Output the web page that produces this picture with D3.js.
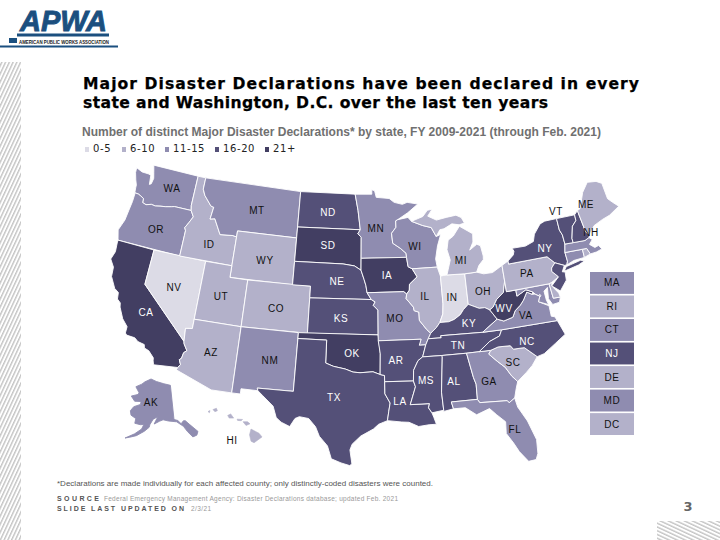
<!DOCTYPE html>
<html>
<head>
<meta charset="utf-8">
<script src="https://cdnjs.cloudflare.com/ajax/libs/d3/7.8.5/d3.min.js"></script>
<style>
  html, body { margin: 0; padding: 0; background: #fff; }
  svg { display: block; font-family: "DejaVu Sans", sans-serif; }
</style>
</head>
<body>
<svg id="chart" width="720" height="540"></svg>
<script>
var binLabels = ['0-5', '6-10', '11-15', '16-20', '21+'];
var binColors = ['#dcdbe6', '#b3b1ca', '#8f8cb0', '#545078', '#423e62'];

var states = ['WA','OR','CA','NV','ID','MT','WY','UT','CO','AZ','NM','ND','SD','NE','KS','OK','TX','MN','IA','MO','AR','LA','WI','IL','IN','OH','MI','KY','TN','MS','AL','GA','FL','SC','NC','VA','WV','MD','DE','PA','NY','NJ','CT','RI','MA','VT','NH','ME','DC','AK','HI'];
var stateBins = [2,2,4,0,1,2,1,1,1,1,2,3,4,3,3,4,3,2,4,2,3,3,2,1,0,1,1,3,3,3,3,2,2,1,3,2,4,2,1,1,3,3,2,1,2,3,3,1,1,2,1];

// the small states listed beside the map
var sideStates = ['MA','RI','CT','NJ','DE','MD','DC'];

// outlines are [lon, lat]
var outlines = {
  WA: [[[-124.7,48.38],[-123.9,48.16],[-123.1,48.15],[-122.75,48.1],[-122.6,47.3],[-122.4,47.4],[-122.3,47.9],[-122.5,48.4],[-122.75,49],[-117.03,49],[-117.04,46.42],[-116.92,45.995],[-118.98,46],[-119.3,45.93],[-119.99,45.81],[-120.65,45.74],[-121.2,45.65],[-121.7,45.7],[-122.3,45.55],[-122.76,45.65],[-122.8,46],[-123.2,46.15],[-123.55,46.25],[-124,46.27],[-124.07,46.7],[-124.1,46.95],[-124.35,47.35],[-124.65,47.95]]],
  OR: [[[-124,46.27],[-123.55,46.25],[-123.2,46.15],[-122.8,46],[-122.76,45.65],[-122.3,45.55],[-121.7,45.7],[-121.2,45.65],[-120.65,45.74],[-119.99,45.81],[-119.3,45.93],[-118.98,46],[-116.92,45.995],[-116.5,45.5],[-116.85,44.95],[-117.2,44.45],[-117.03,44.2],[-117.03,43.8],[-117.03,42],[-124.21,42],[-124.55,42.84],[-124.15,43.8],[-124.05,44.7],[-123.95,45.5],[-123.95,46.2]]],
  CA: [[[-124.21,42],[-120,42],[-120,39],[-114.63,35],[-114.57,34.8],[-114.15,34.27],[-114.43,34.05],[-114.53,33.55],[-114.72,33.4],[-114.5,33],[-114.72,32.72],[-117.12,32.53],[-117.25,32.85],[-117.3,33.1],[-117.9,33.6],[-118.4,33.75],[-118.5,34.03],[-119.2,34.15],[-119.6,34.4],[-120.47,34.45],[-120.65,34.6],[-120.65,35.15],[-121.3,35.7],[-121.9,36.6],[-122,36.95],[-122.4,37.2],[-122.5,37.75],[-123,38],[-123.7,38.9],[-123.8,39.7],[-124.35,40.3],[-124.1,41],[-124.2,41.75]]],
  NV: [[[-120,42],[-114.04,42],[-114.04,36.2],[-114.74,36.1],[-114.63,35],[-120,39]]],
  ID: [[[-117.03,49],[-116.05,49],[-116.05,48],[-115.7,47.5],[-114.7,46.7],[-114.35,46.65],[-114.5,45.6],[-113.95,45.7],[-113.45,45.05],[-113,44.45],[-111.5,44.55],[-111.05,44.48],[-111.05,42],[-117.03,42],[-117.03,43.8],[-117.03,44.2],[-117.2,44.45],[-116.85,44.95],[-116.5,45.5],[-116.92,45.995],[-117.04,46.42]]],
  MT: [[[-116.05,49],[-104.05,49],[-104.05,45],[-111.05,45],[-111.05,44.48],[-111.5,44.55],[-113,44.45],[-113.45,45.05],[-113.95,45.7],[-114.5,45.6],[-114.35,46.65],[-114.7,46.7],[-115.7,47.5],[-116.05,48]]],
  WY: [[[-111.05,45],[-104.05,45],[-104.05,41],[-111.05,41]]],
  UT: [[[-114.04,42],[-111.05,42],[-111.05,41],[-109.05,41],[-109.05,37],[-114.04,37]]],
  CO: [[[-109.05,41],[-102.05,41],[-102.05,37],[-109.05,37]]],
  AZ: [[[-114.04,37],[-109.05,37],[-109.05,31.33],[-111.07,31.33],[-114.81,32.5],[-114.72,32.72],[-114.5,33],[-114.72,33.4],[-114.53,33.55],[-114.43,34.05],[-114.15,34.27],[-114.57,34.8],[-114.63,35],[-114.74,36.1],[-114.04,36.2]]],
  NM: [[[-109.05,37],[-103,37],[-103.06,32],[-106.62,32],[-106.53,31.78],[-108.2,31.78],[-108.2,31.33],[-109.05,31.33]]],
  ND: [[[-104.05,49],[-97.23,49],[-96.85,47.6],[-96.56,45.94],[-104.05,45.94]]],
  SD: [[[-104.05,45.94],[-96.56,45.94],[-96.85,45.6],[-96.45,45.3],[-96.45,42.49],[-97.2,42.85],[-98.5,43],[-104.05,43]]],
  NE: [[[-104.05,43],[-98.5,43],[-97.2,42.85],[-96.45,42.49],[-96.1,41.7],[-95.9,41.2],[-95.77,40.58],[-95.31,40],[-102.05,40],[-102.05,41],[-104.05,41]]],
  KS: [[[-102.05,40],[-95.31,40],[-94.9,39.8],[-95.1,39.5],[-94.6,39.1],[-94.62,37],[-102.05,37]]],
  OK: [[[-103,37],[-94.62,37],[-94.43,35.4],[-94.48,33.64],[-95.2,33.88],[-96.5,33.8],[-97.2,33.85],[-98,34.1],[-99.2,34.3],[-100,34.56],[-100,36.5],[-103,36.5]]],
  TX: [[[-106.62,32],[-103.06,32],[-103,36.5],[-100,36.5],[-100,34.56],[-99.2,34.3],[-98,34.1],[-97.2,33.85],[-96.5,33.8],[-95.2,33.88],[-94.48,33.64],[-94.04,33.55],[-94.04,31.99],[-93.55,31.2],[-93.7,30.5],[-93.85,29.7],[-94.7,29.4],[-95.2,29],[-96.4,28.4],[-97.2,27.7],[-97.4,27.2],[-97.2,26],[-97.4,25.85],[-98.2,26.07],[-99.1,26.4],[-99.5,27.5],[-100.3,28.3],[-100.7,29.1],[-101.4,29.77],[-102.3,29.88],[-102.7,29.7],[-103.15,28.98],[-104,29.3],[-104.5,29.65],[-104.9,30.6],[-106,31.4],[-106.53,31.78]]],
  MN: [[[-97.23,49],[-95.15,49],[-95.15,49.38],[-94.8,49.3],[-94.6,48.72],[-93,48.6],[-92.4,48.25],[-91.4,48.05],[-90.8,48.2],[-89.5,48],[-90.8,47.3],[-92.05,46.75],[-92.3,46.65],[-92.3,46.1],[-92.85,45.6],[-92.75,44.75],[-91.9,44.3],[-91.25,43.85],[-91.22,43.5],[-96.45,43.5],[-96.45,45.3],[-96.85,45.6],[-96.56,45.94],[-96.85,47.6]]],
  IA: [[[-96.45,43.5],[-91.22,43.5],[-91.1,42.7],[-90.65,42.5],[-90.15,41.8],[-91.05,41.2],[-91.1,40.7],[-91.42,40.38],[-91.72,40.6],[-95.77,40.58],[-95.9,41.2],[-96.1,41.7],[-96.45,42.49]]],
  MO: [[[-95.77,40.58],[-91.72,40.6],[-91.42,40.38],[-91.5,40],[-90.75,39.25],[-90.7,38.95],[-90.2,38.8],[-90.2,38.1],[-89.5,37.3],[-89.1,36.95],[-89.4,36.5],[-89.7,36],[-90.37,36],[-90.15,36.5],[-94.62,36.5],[-94.62,37],[-94.6,39.1],[-95.1,39.5],[-94.9,39.8],[-95.31,40]]],
  AR: [[[-94.62,36.5],[-90.15,36.5],[-90.37,36],[-89.7,36],[-90.1,35],[-90.6,34.7],[-91.1,33.9],[-91.17,33],[-94.04,33.02],[-94.04,33.55],[-94.48,33.64],[-94.43,35.4]]],
  LA: [[[-94.04,33.02],[-91.17,33],[-91,32.5],[-91.6,31],[-89.73,31],[-89.85,30.65],[-89.55,30.2],[-89.4,29.8],[-89.2,29.2],[-89.9,29.2],[-90.9,29.1],[-91.8,29.5],[-92.5,29.55],[-93.85,29.7],[-93.7,30.5],[-93.55,31.2],[-94.04,31.99]]],
  WI: [[[-92.05,46.75],[-90.8,46.9],[-90.4,46.55],[-89.1,46.13],[-88.1,45.9],[-87.6,45.1],[-87.05,45.25],[-87.55,44.3],[-87.9,43.2],[-87.8,42.5],[-90.65,42.5],[-91.1,42.7],[-91.22,43.5],[-91.25,43.85],[-91.9,44.3],[-92.75,44.75],[-92.85,45.6],[-92.3,46.1],[-92.3,46.65]]],
  IL: [[[-90.65,42.5],[-87.8,42.5],[-87.53,41.7],[-87.53,39.35],[-87.65,38.5],[-88.05,37.8],[-88.45,37.4],[-89.1,36.95],[-89.5,37.3],[-90.2,38.1],[-90.2,38.8],[-90.7,38.95],[-90.75,39.25],[-91.5,40],[-91.42,40.38],[-91.1,40.7],[-91.05,41.2],[-90.15,41.8]]],
  IN: [[[-87.53,41.7],[-87.2,41.75],[-86.8,41.76],[-84.8,41.7],[-84.82,39.1],[-85.4,38.7],[-85.8,38.3],[-86.5,37.95],[-87.1,37.8],[-88.05,37.8],[-87.65,38.5],[-87.53,39.35]]],
  OH: [[[-84.8,41.7],[-83.45,41.72],[-82.7,41.5],[-81.7,41.5],[-80.52,41.98],[-80.52,40.64],[-80.85,39.7],[-81.7,39.2],[-82.2,38.6],[-82.6,38.4],[-83.1,38.65],[-83.7,38.65],[-84.82,39.1]]],
  MI: [[[-86.8,41.76],[-84.8,41.7],[-83.45,41.72],[-83.1,42.25],[-82.5,42.7],[-82.45,43],[-82.6,43.9],[-83,44.07],[-83.9,43.65],[-83.4,44.3],[-83.3,45],[-84.75,45.78],[-85.6,45],[-86.25,44.7],[-86.5,43.9],[-86.25,43],[-86.6,42.2]],
       [[-90.4,46.55],[-89,46.9],[-88.4,47.4],[-87.8,47.47],[-88.4,46.9],[-87.4,46.5],[-86.2,46.65],[-85,46.75],[-84.4,46.5],[-84.1,46],[-84.75,45.9],[-85.6,46.05],[-86.6,45.7],[-87.1,45.65],[-87.6,45.1],[-88.1,45.9],[-89.1,46.13]]],
  KY: [[[-89.4,36.5],[-89.1,36.95],[-88.45,37.4],[-88.05,37.8],[-87.1,37.8],[-86.5,37.95],[-85.8,38.3],[-85.4,38.7],[-84.82,39.1],[-83.7,38.65],[-83.1,38.65],[-82.6,38.4],[-81.97,37.54],[-83.68,36.6],[-88.07,36.68],[-88.05,36.5]]],
  TN: [[[-90.1,35],[-89.7,36],[-89.4,36.5],[-88.05,36.5],[-88.07,36.68],[-83.68,36.6],[-81.68,36.59],[-82,36.1],[-83.1,35.75],[-84.3,35],[-85.6,35],[-88.2,35]]],
  MS: [[[-91.17,33],[-91.1,33.9],[-90.6,34.7],[-90.1,35],[-88.2,35],[-88.1,34.9],[-88.47,31.9],[-88.4,30.35],[-89.55,30.2],[-89.85,30.65],[-89.73,31],[-91.6,31],[-91,32.5]]],
  AL: [[[-88.2,35],[-85.6,35],[-85.18,32.87],[-85,32.3],[-85.05,31],[-87.6,31],[-87.45,30.4],[-88.4,30.25],[-88.47,31.9],[-88.1,34.9]]],
  GA: [[[-85.6,35],[-83.1,35],[-83.35,34.7],[-82.6,34],[-81.9,33.4],[-81.4,32.6],[-80.9,32.05],[-81.15,31.5],[-81.45,30.7],[-82.05,30.37],[-82.2,30.57],[-84.86,30.7],[-85.05,31],[-85,32.3],[-85.18,32.87]]],
  FL: [[[-87.6,31],[-85.05,31],[-84.86,30.7],[-82.2,30.57],[-82.05,30.37],[-81.45,30.7],[-81.3,29.9],[-80.6,28.6],[-80.05,26.9],[-80.15,25.7],[-80.4,25.2],[-81.1,25.15],[-81.8,26.1],[-82.2,26.9],[-82.75,27.8],[-82.65,28.8],[-83.4,29.5],[-84,30.1],[-85.3,29.7],[-86.3,30.4],[-87.45,30.4]]],
  SC: [[[-83.1,35],[-82.3,35.2],[-81.05,35.15],[-80.8,34.82],[-79.67,34.8],[-78.55,33.86],[-79.2,33.2],[-79.9,32.7],[-80.9,32.05],[-81.4,32.6],[-81.9,33.4],[-82.6,34],[-83.35,34.7]]],
  NC: [[[-84.3,35],[-83.1,35.75],[-82,36.1],[-81.68,36.59],[-75.87,36.55],[-75.5,35.3],[-76.5,34.7],[-77.8,34],[-78.55,33.86],[-79.67,34.8],[-80.8,34.82],[-81.05,35.15],[-82.3,35.2],[-83.1,35]]],
  VA: [[[-83.68,36.6],[-81.97,37.54],[-81.3,37.3],[-80.3,37.5],[-79.95,38],[-79.3,38.4],[-78.87,38.77],[-78.35,39.4],[-77.83,39.13],[-77.5,39.1],[-77.05,38.85],[-77.3,38.4],[-76.3,37.9],[-76.3,37],[-76,36.9],[-75.87,36.55],[-81.68,36.59]]],
  WV: [[[-82.6,38.4],[-82.2,38.6],[-81.7,39.2],[-80.85,39.7],[-80.52,40.64],[-80.52,39.72],[-79.48,39.72],[-79.48,39.2],[-78.4,39.6],[-77.72,39.32],[-77.83,39.13],[-78.35,39.4],[-78.87,38.77],[-79.3,38.4],[-79.95,38],[-80.3,37.5],[-81.3,37.3],[-81.97,37.54]]],
  MD: [[[-79.48,39.72],[-75.79,39.72],[-75.7,38.46],[-75.05,38.45],[-75.25,38.03],[-75.9,37.95],[-76.2,38.5],[-76.05,39.45],[-76.5,39.2],[-76.45,38.4],[-76.3,38],[-77.3,38.4],[-77.05,38.85],[-77.5,39.1],[-77.72,39.32],[-78.4,39.6],[-79.48,39.2]]],
  DE: [[[-75.79,39.72],[-75.45,39.8],[-75.55,39.5],[-75.1,38.8],[-75.05,38.45],[-75.7,38.46]]],
  PA: [[[-80.52,41.98],[-79.76,42.27],[-79.76,42],[-75.35,42],[-74.7,41.36],[-75.13,40.98],[-75.2,40.7],[-74.72,40.15],[-75.45,39.8],[-75.79,39.72],[-80.52,39.72]]],
  NY: [[[-79.76,42.27],[-79.05,42.7],[-78.9,43],[-79.05,43.27],[-77.5,43.25],[-76.5,43.5],[-76.2,44.1],[-75.3,44.85],[-74.7,45],[-73.35,45],[-73.4,44],[-73.25,43.55],[-73.27,42.75],[-73.5,42.05],[-73.5,41.3],[-73.65,41],[-73.9,41],[-74.7,41.36],[-75.35,42],[-79.76,42]],
       [[-74,40.6],[-73.75,40.87],[-72.3,41.15],[-71.9,41.05],[-72.6,40.8],[-73.9,40.55]]],
  NJ: [[[-73.9,41],[-74.25,40.5],[-74,40.45],[-74.1,39.75],[-74.9,38.95],[-75.55,39.5],[-74.72,40.15],[-75.2,40.7],[-75.13,40.98],[-74.7,41.36]]],
  CT: [[[-73.5,42.05],[-71.8,42.02],[-71.85,41.32],[-72.9,41.25],[-73.65,41],[-73.5,41.3]]],
  RI: [[[-71.8,42.02],[-71.38,42.02],[-71.2,41.5],[-71.85,41.32]]],
  MA: [[[-73.5,42.05],[-73.27,42.75],[-71.3,42.7],[-70.85,42.87],[-70.6,42.65],[-71,42.3],[-70.6,41.95],[-70.2,42.05],[-70,41.7],[-70.6,41.55],[-71.2,41.5],[-71.38,42.02]]],
  VT: [[[-73.35,45],[-71.5,45],[-71.55,44.5],[-72.05,44.1],[-72.45,43.1],[-72.46,42.73],[-73.27,42.75],[-73.25,43.55],[-73.4,44]]],
  NH: [[[-71.5,45],[-71.1,45.3],[-70.98,43.4],[-70.7,43.07],[-70.85,42.87],[-71.3,42.7],[-72.46,42.73],[-72.45,43.1],[-72.05,44.1],[-71.55,44.5]]],
  ME: [[[-71.1,45.3],[-70.8,45.4],[-70.3,46.2],[-70,46.7],[-69.2,47.45],[-68.3,47.35],[-67.8,47.07],[-67.8,45.7],[-67.45,45.3],[-67,44.85],[-68.2,44.3],[-69,44.1],[-70,43.75],[-70.7,43.07],[-70.98,43.4]]],
  DC: [[[-77.12,38.93],[-77.04,39],[-76.91,38.89],[-77.04,38.79]]],
  AK: [[[-141,69.65],[-141,60.3],[-139,59.9],[-137.5,58.9],[-136,59.6],[-135,59.5],[-133.4,58.4],[-130,55.9],[-131,55],[-133,54.8],[-135,56.5],[-136.5,58.1],[-139.7,59.6],[-144,60],[-147,60.4],[-149,60],[-151.8,59.2],[-150,61.2],[-152.5,60.5],[-154,59],[-154.3,58.2],[-156.5,57],[-160,55.5],[-163,54.7],[-165,54.2],[-161,55.9],[-158,57.5],[-157.2,58.8],[-159,58.6],[-162,58.7],[-162,60],[-165,60.6],[-166,61.7],[-164.7,63],[-161,64],[-161,64.8],[-165,64.5],[-168,65.6],[-164,66.5],[-163.5,67],[-166.8,68.4],[-163,69.5],[-161,70.3],[-156.5,71.35],[-152,70.8],[-146,70.2]]],
  HI: [[[-155.9,20.25],[-155.1,19.85],[-154.8,19.5],[-155.6,18.95],[-155.9,19.1],[-156.05,19.7]],
       [[-156.7,20.95],[-156.25,20.95],[-156,20.75],[-156.4,20.6]],
       [[-157.3,21.2],[-156.75,21.17],[-156.9,21.05],[-157.25,21.08]],
       [[-158.25,21.55],[-157.95,21.7],[-157.65,21.3],[-158.1,21.3]],
       [[-159.75,22.1],[-159.4,22.23],[-159.3,22],[-159.55,21.9]],
       [[-160.25,21.9],[-160.05,22],[-160.1,21.8]]]
};

var svg = d3.select('#chart');
var labelFont = '"Liberation Sans", sans-serif';

// map projections, lower 48 anchored on the KS/OK line
var lower48 = d3.geoAlbers().scale(670);
var anchor = lower48([-96, 37]);
var tr = lower48.translate();
lower48.translate([tr[0] + 365 - anchor[0], tr[1] + 335 - anchor[1]]);
// the reference map is a little wider than a true Albers, New England most of all
var widenX = d3.scaleLinear().domain([365, 546.6, 590]).range([365, 552, 605]);

function toFeature(code) {
  return { type: 'MultiPoint', coordinates: d3.merge(outlines[code]) };
}
var alaska = d3.geoConicEqualArea().rotate([148, 0]).center([-2, 58.5]).parallels([55, 65])
  .fitExtent([[124, 379], [199, 438]], toFeature('AK'));
var hawaii = d3.geoConicEqualArea().rotate([157, 0]).center([-3, 19.9]).parallels([8, 18])
  .fitExtent([[208, 405], [262, 446]], toFeature('HI'));

function projectPoint(code, p) {
  if (code === 'AK') return alaska(p);
  if (code === 'HI') return hawaii(p);
  var q = lower48(p);
  return [widenX(q[0]), q[1]];
}

var ringLine = d3.line();
function statePath(code) {
  return outlines[code].map(function(ring) {
    return ringLine(ring.map(function(p) { return projectPoint(code, p); })) + 'Z';
  }).join('');
}

// hatching down the left side and in the corner
var defs = svg.append('defs');
function addHatch(id, angle) {
  var hatch = defs.append('pattern').attr('id', id).attr('patternUnits', 'userSpaceOnUse')
    .attr('width', 3.4).attr('height', 4).attr('patternTransform', 'rotate(' + angle + ')');
  hatch.append('rect').attr('width', 3.4).attr('height', 4).attr('fill', '#fff');
  hatch.append('rect').attr('width', 1.4).attr('height', 4).attr('fill', '#c4c4c4');
}
addHatch('hatchLeft', 25);
addHatch('hatchCorner', -65);

svg.append('rect').attr('x', 0).attr('y', 62).attr('width', 21).attr('height', 478).attr('fill', 'url(#hatchLeft)');
svg.append('rect').attr('x', 657).attr('y', 521).attr('width', 63).attr('height', 19).attr('fill', 'url(#hatchCorner)');

// logo
var logoBlue = '#1b4f7f';
var logo = svg.append('g').attr('font-family', labelFont);
logo.append('text').attr('x', 20).attr('y', 31).attr('fill', logoBlue).attr('stroke', logoBlue).attr('stroke-width', 0.9)
  .attr('font-weight', 'bold').attr('font-style', 'italic')
  .attr('font-size', 29).attr('textLength', 87).attr('lengthAdjust', 'spacingAndGlyphs').text('APWA');
logo.append('rect').attr('x', 17).attr('y', 33.5).attr('width', 92).attr('height', 3).attr('fill', logoBlue);
logo.append('text').attr('x', 19).attr('y', 44).attr('fill', '#222')
  .attr('font-weight', 'bold').attr('font-size', 5)
  .attr('textLength', 90).attr('lengthAdjust', 'spacingAndGlyphs').text('AMERICAN PUBLIC WORKS ASSOCIATION');
logo.append('rect').attr('x', 0).attr('y', 45.5).attr('width', 118).attr('height', 2).attr('fill', logoBlue);
logo.append('rect').attr('x', 9).attr('y', 38).attr('width', 8).attr('height', 5).attr('fill', logoBlue);

// heading
var headingLines = ['Major Disaster Declarations have been declared in every', 'state and Washington, D.C. over the last ten years'];
svg.append('text').attr('x', 83).attr('y', 89).attr('font-size', 15.6).attr('font-weight', 'bold').attr('fill', '#000')
  .attr('stroke', '#000').attr('stroke-width', 0.25)
  .attr('textLength', 556).attr('lengthAdjust', 'spacing').text(headingLines[0]);
svg.append('text').attr('x', 83).attr('y', 108).attr('font-size', 15.6).attr('font-weight', 'bold').attr('fill', '#000')
  .attr('stroke', '#000').attr('stroke-width', 0.25)
  .attr('textLength', 465).attr('lengthAdjust', 'spacing').text(headingLines[1]);
svg.append('text').attr('x', 82).attr('y', 136).attr('font-family', labelFont).attr('font-size', 12)
  .attr('font-weight', 'bold').attr('fill', '#707070').attr('textLength', 519).attr('lengthAdjust', 'spacing')
  .text('Number of distinct Major Disaster Declarations* by state, FY 2009-2021 (through Feb. 2021)');

// legend
var legendOffsets = [85, 122, 165, 215, 265];
var legend = svg.append('g').selectAll('g').data(binLabels).enter().append('g')
  .attr('transform', function(d, i) { return 'translate(' + legendOffsets[i] + ',148)'; });
legend.append('rect').attr('y', -1).attr('width', 4).attr('height', 5)
  .attr('fill', function(d, i) { return binColors[i]; });
legend.append('text').attr('x', 8).attr('y', 4).attr('font-size', 10).attr('letter-spacing', 0.6).attr('fill', '#222')
  .text(function(d) { return d; });

// states
svg.append('g').selectAll('path').data(states).enter().append('path')
  .attr('d', statePath)
  .attr('fill', function(d, i) { return binColors[stateBins[i]]; })
  .attr('stroke', function(d, i) { return d === 'AK' || d === 'HI' ? binColors[stateBins[i]] : '#fff'; })
  .attr('stroke-width', function(d) { return d === 'HI' ? 0.6 : 0.9; })
  .attr('stroke-linejoin', 'round');

// side boxes for small states
var boxY = d3.scaleBand().domain(sideStates).range([272, 435]).paddingInner(0.07);
var boxes = svg.append('g').selectAll('g').data(sideStates).enter().append('g');
boxes.append('rect').attr('x', 590).attr('width', 44)
  .attr('y', function(d) { return boxY(d); }).attr('height', boxY.bandwidth())
  .attr('fill', function(d) { return binColors[stateBins[states.indexOf(d)]]; });
boxes.append('text').attr('x', 612).attr('text-anchor', 'middle').attr('font-family', labelFont).attr('font-size', 10)
  .attr('letter-spacing', 0.6)
  .attr('y', function(d) { return boxY(d) + boxY.bandwidth() / 2 + 3.5; })
  .attr('fill', function(d) { return stateBins[states.indexOf(d)] >= 3 ? '#fff' : '#111'; })
  .text(function(d) { return d; });

// labels, [code, x, y, light text]
var mapLabels = [
  ['WA',172,192,0],['MT',257,214,0],['OR',156,233,0],['ID',209,248,0],['ND',328,216,1],['SD',328,249,1],['WY',265,264,0],
  ['NV',174,291,0],['UT',221,300,0],['CO',276,312,0],['CA',146,316,1],['NE',337,285,1],['KS',341,322,1],['OK',352,357,1],
  ['AZ',211,356,0],['NM',270,364,0],['TX',334,401,1],['AK',151,406,0],['HI',232,444,0],
  ['MN',376,232,0],['IA',387,279,1],['MO',395,322,0],['AR',396,364,1],['LA',400,405,1],['MS',426,384,1],['AL',454,385,1],
  ['WI',415,250,0],['IL',425,300,0],['IN',452,301,0],['MI',461,264,0],['OH',483,295,0],['KY',469,327,1],['TN',458,349,1],
  ['GA',489,385,0],['FL',515,433,0],['SC',513,366,0],['NC',527,345,1],['VA',526,319,0],['WV',504,312,1],['PA',527,277,0],
  ['NY',545,252,1],['VT',556,215,0],['NH',591,236,0],['ME',586,208,0]
];
svg.append('g').selectAll('text').data(mapLabels).enter().append('text')
  .attr('x', function(d) { return d[1]; }).attr('y', function(d) { return d[2]; })
  .attr('text-anchor', 'middle').attr('font-family', labelFont).attr('font-size', 10).attr('letter-spacing', 0.6)
  .attr('fill', function(d) { return d[3] ? '#fff' : '#111'; })
  .text(function(d) { return d[0]; });

// notes
var notes = svg.append('g').attr('font-family', labelFont);
notes.append('text').attr('x', 57).attr('y', 486).attr('font-size', 8).attr('fill', '#555')
  .attr('textLength', 376).attr('lengthAdjust', 'spacing')
  .text('*Declarations are made individually for each affected county; only distinctly-coded disasters were counted.');
notes.append('text').attr('x', 57).attr('y', 501).attr('font-size', 7).attr('font-weight', 'bold').attr('fill', '#555')
  .attr('textLength', 42).attr('lengthAdjust', 'spacing').text('SOURCE');
notes.append('text').attr('x', 104).attr('y', 501).attr('font-size', 6.5).attr('fill', '#999')
  .attr('textLength', 294).attr('lengthAdjust', 'spacing')
  .text('Federal Emergency Management Agency: Disaster Declarations database; updated Feb. 2021');
notes.append('text').attr('x', 57).attr('y', 511).attr('font-size', 7).attr('font-weight', 'bold').attr('fill', '#555')
  .attr('textLength', 127).attr('lengthAdjust', 'spacing').text('SLIDE LAST UPDATED ON');
notes.append('text').attr('x', 191).attr('y', 511).attr('font-size', 6.5).attr('fill', '#999')
  .attr('textLength', 20).attr('lengthAdjust', 'spacing').text('2/3/21');
svg.append('text').attr('x', 688).attr('y', 510.5).attr('text-anchor', 'middle').attr('font-size', 13)
  .attr('font-weight', 'bold').attr('fill', '#666').text('3');
</script>
</body>
</html>
